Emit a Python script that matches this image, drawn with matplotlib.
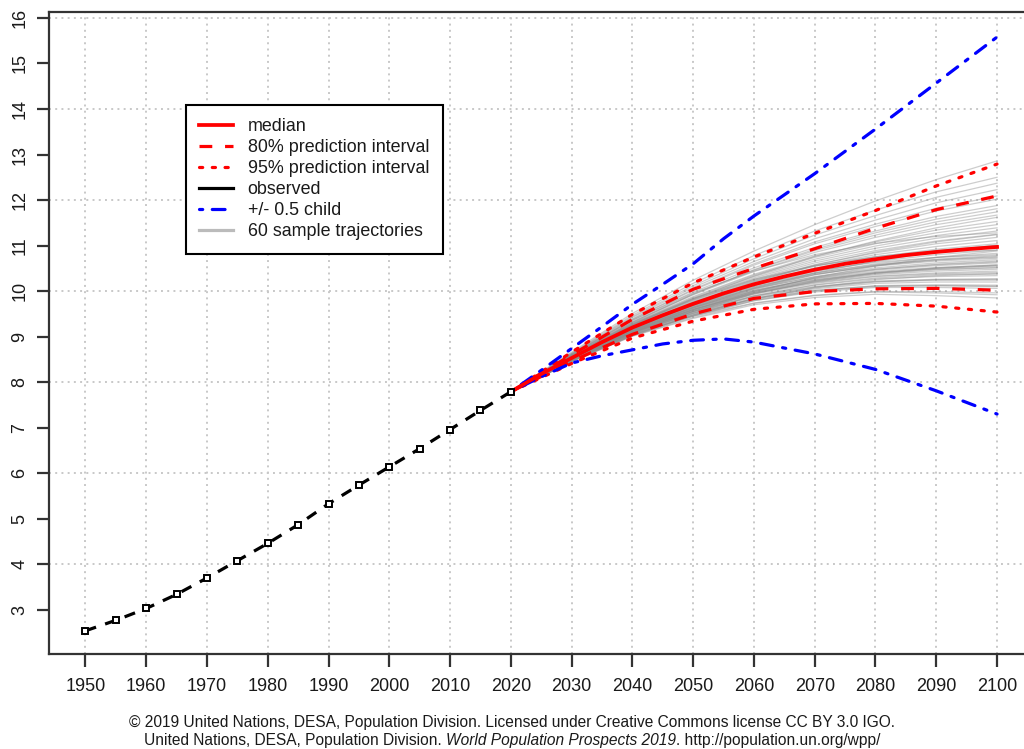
import numpy as np
import matplotlib
matplotlib.use("Agg")
import matplotlib.pyplot as plt
from matplotlib.lines import Line2D

plt.rcParams['font.family'] = ['Liberation Sans', 'DejaVu Sans']

# ---------------- data ----------------
obs_years = [1950, 1955, 1960, 1965, 1970, 1975, 1980, 1985, 1990, 1995, 2000, 2005, 2010, 2015, 2020]
obs_pop = [2.54, 2.77, 3.03, 3.34, 3.70, 4.08, 4.46, 4.87, 5.33, 5.74, 6.14, 6.54, 6.96, 7.38, 7.79]

proj_years = [2020, 2025, 2030, 2035, 2040, 2045, 2050, 2055, 2060, 2065, 2070, 2075, 2080, 2085, 2090, 2095, 2100]
median = [7.79, 8.18, 8.53, 8.88, 9.20, 9.47, 9.72, 9.95, 10.15, 10.32, 10.47, 10.60, 10.70, 10.79, 10.86, 10.92, 10.97]

pi_years = [2020, 2030, 2040, 2050, 2060, 2070, 2080, 2090, 2100]
pi80_low = [7.79, 8.46, 9.05, 9.50, 9.84, 9.99, 10.05, 10.06, 10.02]
pi80_high = [7.79, 8.60, 9.38, 10.04, 10.50, 10.93, 11.38, 11.79, 12.09]
pi95_low = [7.79, 8.41, 8.97, 9.34, 9.60, 9.72, 9.73, 9.67, 9.54]
pi95_high = [7.79, 8.66, 9.49, 10.18, 10.75, 11.27, 11.77, 12.31, 12.79]

var_years = [2020, 2025, 2030, 2035, 2040, 2045, 2050, 2055, 2060, 2070, 2080, 2090, 2100]
high_var = [7.79, 8.26, 8.74, 9.22, 9.71, 10.15, 10.60, 11.15, 11.65, 12.58, 13.56, 14.57, 15.58]
low_var = [7.79, 8.12, 8.42, 8.58, 8.71, 8.84, 8.92, 8.95, 8.88, 8.62, 8.28, 7.81, 7.30]

traj_years = [2030, 2040, 2050, 2060, 2070, 2080, 2090, 2100]
trajectories = [
    [8.66, 9.51, 10.24, 10.88, 11.46, 11.98, 12.45, 12.86],
    [8.64, 9.47, 10.17, 10.78, 11.32, 11.78, 12.18, 12.50],
    [8.63, 9.44, 10.12, 10.71, 11.23, 11.66, 12.06, 12.37],
    [8.62, 9.42, 10.08, 10.65, 11.15, 11.56, 11.94, 12.23],
    [8.61, 9.39, 10.04, 10.60, 11.08, 11.47, 11.82, 12.09],
    [8.61, 9.38, 10.02, 10.57, 11.04, 11.42, 11.76, 12.02],
    [8.60, 9.36, 9.98, 10.51, 10.96, 11.32, 11.64, 11.88],
    [8.58, 9.31, 9.93, 10.47, 10.92, 11.28, 11.58, 11.81],
    [8.59, 9.33, 9.94, 10.46, 10.89, 11.23, 11.52, 11.74],
    [8.58, 9.32, 9.92, 10.43, 10.85, 11.18, 11.46, 11.67],
    [8.55, 9.25, 9.83, 10.33, 10.76, 11.10, 11.39, 11.62],
    [8.57, 9.30, 9.88, 10.37, 10.77, 11.08, 11.34, 11.53],
    [8.57, 9.28, 9.86, 10.35, 10.74, 11.04, 11.28, 11.46],
    [8.56, 9.27, 9.84, 10.32, 10.70, 10.99, 11.22, 11.39],
    [8.60, 9.36, 9.96, 10.44, 10.80, 11.05, 11.20, 11.28],
    [8.56, 9.26, 9.82, 10.29, 10.66, 10.94, 11.16, 11.32],
    [8.55, 9.25, 9.80, 10.26, 10.62, 10.89, 11.10, 11.25],
    [8.55, 9.24, 9.78, 10.23, 10.58, 10.84, 11.04, 11.18],
    [8.54, 9.22, 9.76, 10.21, 10.55, 10.80, 10.98, 11.11],
    [8.54, 9.21, 9.74, 10.18, 10.51, 10.75, 10.92, 11.04],
    [8.52, 9.17, 9.69, 10.13, 10.47, 10.72, 10.89, 11.00],
    [8.53, 9.19, 9.70, 10.12, 10.43, 10.65, 10.80, 10.90],
    [8.55, 9.23, 9.76, 10.17, 10.45, 10.63, 10.74, 10.80],
    [8.52, 9.18, 9.68, 10.09, 10.39, 10.60, 10.74, 10.83],
    [8.52, 9.16, 9.66, 10.07, 10.36, 10.56, 10.68, 10.76],
    [8.50, 9.13, 9.63, 10.05, 10.36, 10.57, 10.70, 10.78],
    [8.51, 9.15, 9.64, 10.04, 10.32, 10.51, 10.62, 10.69],
    [8.54, 9.20, 9.68, 10.06, 10.31, 10.48, 10.58, 10.64],
    [8.51, 9.14, 9.62, 10.01, 10.28, 10.46, 10.56, 10.62],
    [8.49, 9.11, 9.60, 10.00, 10.29, 10.48, 10.59, 10.66],
    [8.50, 9.13, 9.60, 9.98, 10.24, 10.41, 10.50, 10.55],
    [8.52, 9.16, 9.63, 10.00, 10.25, 10.40, 10.48, 10.52],
    [8.50, 9.12, 9.58, 9.95, 10.20, 10.36, 10.44, 10.48],
    [8.48, 9.09, 9.56, 9.95, 10.22, 10.38, 10.47, 10.51],
    [8.49, 9.10, 9.56, 9.93, 10.17, 10.32, 10.38, 10.41],
    [8.51, 9.14, 9.60, 9.96, 10.19, 10.33, 10.40, 10.44],
    [8.49, 9.09, 9.54, 9.90, 10.13, 10.27, 10.32, 10.34],
    [8.47, 9.06, 9.52, 9.89, 10.14, 10.29, 10.36, 10.38],
    [8.48, 9.08, 9.52, 9.87, 10.09, 10.22, 10.26, 10.27],
    [8.50, 9.11, 9.55, 9.89, 10.10, 10.21, 10.24, 10.24],
    [8.48, 9.07, 9.50, 9.84, 10.05, 10.17, 10.20, 10.20],
    [8.46, 9.04, 9.48, 9.84, 10.07, 10.20, 10.25, 10.26],
    [8.47, 9.06, 9.48, 9.81, 10.01, 10.12, 10.14, 10.13],
    [8.49, 9.09, 9.51, 9.83, 10.02, 10.11, 10.12, 10.10],
    [8.47, 9.04, 9.46, 9.79, 9.98, 10.08, 10.08, 10.06],
    [8.45, 9.02, 9.45, 9.79, 10.00, 10.10, 10.12, 10.11],
    [8.46, 9.02, 9.42, 9.73, 9.90, 9.98, 9.96, 9.92],
    [8.45, 9.01, 9.40, 9.70, 9.86, 9.93, 9.90, 9.85],
    [8.47, 9.05, 9.45, 9.74, 9.91, 9.99, 9.99, 9.96],
    [8.53, 9.18, 9.65, 10.02, 10.27, 10.43, 10.52, 10.57],
    [8.56, 9.24, 9.74, 10.13, 10.40, 10.58, 10.69, 10.74],
    [8.50, 9.12, 9.59, 9.97, 10.23, 10.40, 10.51, 10.58],
    [8.48, 9.08, 9.55, 9.94, 10.21, 10.39, 10.50, 10.56],
    [8.54, 9.20, 9.70, 10.10, 10.37, 10.55, 10.66, 10.72],
    [8.57, 9.27, 9.81, 10.24, 10.55, 10.76, 10.89, 10.96],
    [8.51, 9.15, 9.65, 10.07, 10.40, 10.66, 10.86, 11.01],
    [8.53, 9.20, 9.74, 10.20, 10.57, 10.86, 11.08, 11.24],
    [8.49, 9.10, 9.58, 9.98, 10.30, 10.55, 10.74, 10.88],
    [8.58, 9.29, 9.84, 10.26, 10.56, 10.75, 10.85, 10.90],
    [8.46, 9.03, 9.47, 9.83, 10.08, 10.25, 10.34, 10.38],
]

x_ticks = list(range(1950, 2101, 10))
y_ticks = list(range(3, 17))
y_grid = [4, 6, 8, 10, 12, 14, 16]

legend_labels = ["median", "80% prediction interval", "95% prediction interval",
                 "observed", "+/- 0.5 child", "60 sample trajectories"]

footer1 = "\u00a9 2019 United Nations, DESA, Population Division. Licensed under Creative Commons license CC BY 3.0 IGO."
footer2 = ["United Nations, DESA, Population Division. ", "World Population Prospects 2019",
           ". http://population.un.org/wpp/"]

# ---------------- figure ----------------
W, H = 1024, 749
fig = plt.figure(figsize=(W / 100, H / 100), dpi=100)
ax_left, ax_right, ax_top, ax_bot = 49, 1033.5, 12, 654
ax = fig.add_axes([ax_left / W, 1 - ax_bot / H, (ax_right - ax_left) / W, (ax_bot - ax_top) / H])
ax.set_xlim(1944, 2106)
ax.set_ylim(2.03, 16.13)

grid_kw = dict(color='#c8c8c8', lw=1.4, ls=(0, (1, 2.2)), zorder=0)
for gx in x_ticks:
    ax.axvline(gx, **grid_kw)
for gy in y_grid:
    ax.axhline(gy, **grid_kw)

red = '#ff0000'
blue = '#0000ff'
lw = 2.3

for row in trajectories:
    ax.plot([obs_years[-1]] + traj_years, [obs_pop[-1]] + row, color='#8a8a8a', lw=0.9,
            alpha=0.42, zorder=2)

ax.plot(pi_years, pi95_low, color=red, lw=lw, ls=(0, (1, 3)), dash_capstyle='round', zorder=4)
ax.plot(pi_years, pi95_high, color=red, lw=lw, ls=(0, (1, 3)), dash_capstyle='round', zorder=4)
ax.plot(pi_years, pi80_low, color=red, lw=lw, ls=(0, (4, 4)), zorder=4)
ax.plot(pi_years, pi80_high, color=red, lw=lw, ls=(0, (4, 4)), zorder=4)
ax.plot(proj_years, median, color=red, lw=lw + 0.4, zorder=5)
ax.plot(var_years, high_var, color=blue, lw=lw, ls=(0, (1, 3, 4, 3)), dash_capstyle='round', zorder=4)
ax.plot(var_years, low_var, color=blue, lw=lw, ls=(0, (1, 3, 4, 3)), dash_capstyle='round', zorder=4)
ax.plot(obs_years, obs_pop, color='black', lw=lw, ls=(0, (3.5, 3)), marker='s', ms=5,
        mfc='white', mec='black', mew=1.4, zorder=6)

for s in ax.spines.values():
    s.set_color('#333333')
    s.set_linewidth(1.6)

ax.set_xticks(x_ticks)
ax.set_yticks(y_ticks)
ax.tick_params(axis='both', length=9, width=1.6, color='#333333', labelsize=13, labelcolor='#1a1a1a')
ax.tick_params(axis='x', pad=8)
ax.tick_params(axis='y', pad=6)
for t in ax.get_yticklabels():
    t.set_rotation(90)
    t.set_va('center')

handles = [
    Line2D([], [], color=red, lw=lw + 0.4),
    Line2D([], [], color=red, lw=lw, ls=(0, (4, 4))),
    Line2D([], [], color=red, lw=lw, ls=(0, (1, 3)), dash_capstyle='round'),
    Line2D([], [], color='black', lw=lw),
    Line2D([], [], color=blue, lw=lw, ls=(0, (1, 3, 4, 3)), dash_capstyle='round'),
    Line2D([], [], color='#bbbbbb', lw=lw),
]
leg = ax.legend(handles, legend_labels, loc='upper left',
                bbox_to_anchor=(186 / W, 1 - 105 / H), bbox_transform=fig.transFigure,
                fontsize=12.9, handlelength=1.85, handletextpad=0.84, labelspacing=0.22,
                borderpad=0.75, borderaxespad=0, frameon=True, fancybox=False,
                edgecolor='black', framealpha=1)
leg.get_frame().set_linewidth(1.5)
leg.set_zorder(10)
for t in leg.get_texts():
    t.set_color('#1a1a1a')

fig.text(0.5, 1 - 722 / H, footer1, ha='center', va='center', fontsize=11.2, color='#1a1a1a')

# second footer line with italic part, centred as a whole
fig.canvas.draw()
renderer = fig.canvas.get_renderer()
pieces = []
styles = ['normal', 'italic', 'normal']
for txt, st in zip(footer2, styles):
    pieces.append(fig.text(0, 1 - 741 / H, txt, ha='left', va='center', fontsize=11.2,
                           style=st, color='#1a1a1a'))
widths = [p.get_window_extent(renderer).width for p in pieces]
x0 = (W - sum(widths)) / 2
for p, w in zip(pieces, widths):
    p.set_x(x0 / W)
    x0 += w

fig.savefig('out.png', dpi=100)
